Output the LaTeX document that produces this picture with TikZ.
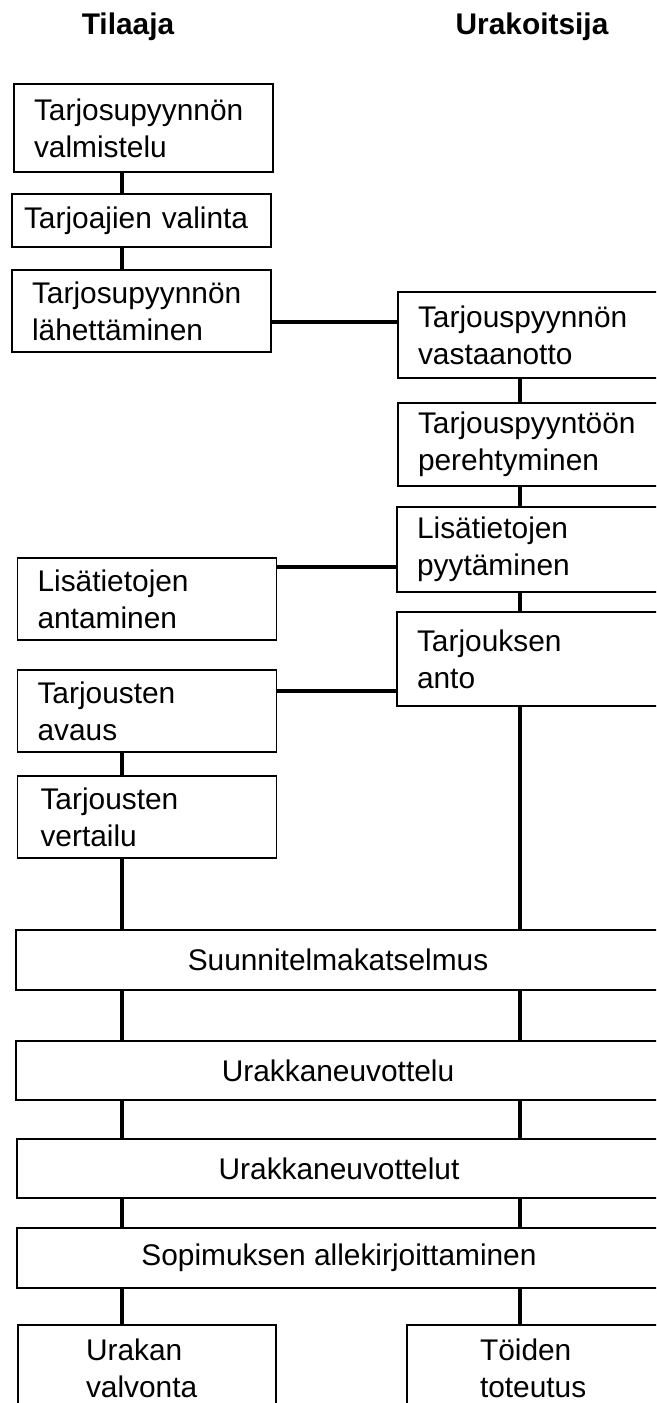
\documentclass[tikz,border=0pt]{standalone}
\usepackage{fontspec}
\setmainfont{Liberation Sans}

\begin{document}
\begin{tikzpicture}[x=0.02cm,y=-0.02cm,
	box/.style={draw,line width=0.9pt,inner ysep=0pt,inner xsep=0.4cm,align=left,font=\fontsize{17}{21}\selectfont},
	lbox/.style={box,text width=4.38cm},
	rbox/.style={box,text width=4.68cm},
	wide/.style={box,align=center,minimum width=12.88cm},
	title/.style={font=\fontsize{17}{21}\selectfont\bfseries,anchor=base},
	link/.style={line width=1.9pt}]
\useasboundingbox (0,0) rectangle (656,1403);
\clip (0,0) rectangle (656,1403);
\node[title] (tilaaja) at (128,34) {Tilaaja};
\node[title] (urakoitsija) at (532,34) {Urakoitsija};
% Tilaaja
\node[lbox,minimum height=1.76cm] (prep) at (143.5,128) {Tarjosupyynnön\\valmistelu};
\node[box,inner xsep=0.24cm,text width=4.7cm,minimum height=1.06cm] (choose) at (141.5,220.5) {Tarjoajien valinta};
\node[lbox,minimum height=1.64cm] (send) at (141.5,311) {Tarjosupyynnön\\lähettäminen};
\node[lbox,minimum height=1.64cm] (give) at (147,599) {Lisätietojen\\antaminen};
\node[lbox,minimum height=1.64cm] (open) at (147,711) {Tarjousten\\avaus};
\node[lbox,inner xsep=0.46cm,text width=4.26cm,minimum height=1.64cm] (compare) at (147,817) {Tarjousten\\vertailu};
% Urakoitsija
\node[rbox,minimum height=1.72cm] (recv) at (535,335) {Tarjouspyynnön\\vastaanotto};
\node[rbox,minimum height=1.66cm] (study) at (535,444.5) {Tarjouspyyntöön\\perehtyminen};
\node[rbox,minimum height=1.7cm] (ask) at (534,549.5) {Lisätietojen\\pyytäminen};
\node[rbox,minimum height=1.88cm] (offer) at (534,659) {Tarjouksen\\anto};
% yhteiset
\node[wide,minimum height=1.2cm] (review) at (338,960) {Suunnitelmakatselmus};
\node[wide,minimum height=1.18cm] (nego1) at (338,1070.5) {Urakkaneuvottelu};
\node[wide,minimum height=1.18cm] (nego2) at (339,1168.5) {Urakkaneuvottelut};
\node[wide,minimum height=1.2cm] (sign) at (339,1258) {Sopimuksen allekirjoittaminen};
\node[box,inner xsep=1.36cm,text width=2.44cm,minimum height=1.72cm] (supervise) at (147,1368) {Urakan\\valvonta};
\node[box,inner xsep=1.46cm,text width=2.38cm,minimum height=1.72cm] (work) at (539.5,1368) {Töiden\\toteutus};
% connectors
\coordinate (lanel) at (122,0);
\coordinate (laner) at (520,0);
\foreach \a/\b in {prep/choose,choose/send,open/compare,compare/review,review/nego1,nego1/nego2,nego2/sign,sign/supervise}
{
	\draw[link] (\a.south -| lanel) -- (\b.north -| lanel);
}
\foreach \a/\b in {recv/study,study/ask,ask/offer,offer/review,review/nego1,nego1/nego2,nego2/sign,sign/work}
{
	\draw[link] (\a.south -| laner) -- (\b.north -| laner);
}
\draw[link] ([yshift=-0.22cm]send.east) -- ([yshift=-0.22cm]send.east -| recv.west);
\draw[link] ([yshift=0.64cm]give.east) -- ([yshift=0.64cm]give.east -| ask.west);
\draw[link] ([yshift=0.4cm]open.east) -- ([yshift=0.4cm]open.east -| offer.west);
\end{tikzpicture}
\end{document}
